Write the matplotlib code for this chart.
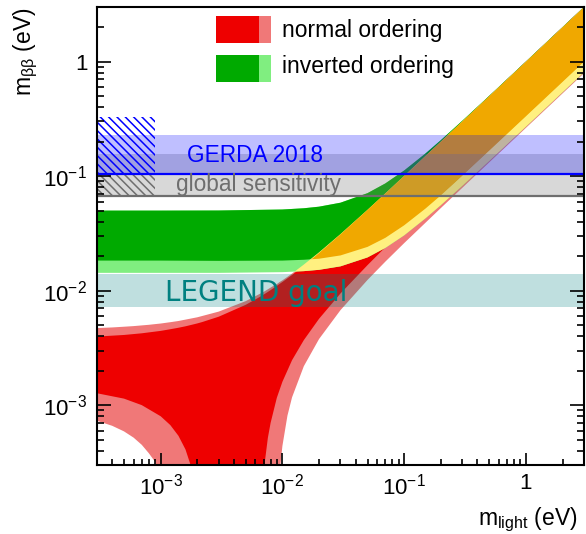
import numpy as np
import matplotlib
matplotlib.use('Agg')
import matplotlib.pyplot as plt
from matplotlib.patches import Rectangle
from matplotlib.ticker import LogLocator, NullFormatter

plt.rcParams['font.family'] = ['Liberation Sans', 'DejaVu Sans']
plt.rcParams['mathtext.default'] = 'regular'
plt.rcParams['hatch.linewidth'] = 1.1

# normal ordering, light band (outer envelope); 1e-5 = below the frame (m_bb -> 0)
no_l_x = [3e-4, 4e-4, 5e-4, 6e-4, 7e-4, 8e-4, 9e-4, 1e-3, 1.2e-3, 1.4e-3, 2e-3, 3e-3, 5e-3, 7e-3,
          8.8e-3, 9e-3, 9.5e-3, 1e-2, 1.1e-2, 1.2e-2, 1.5e-2, 2e-2, 3e-2, 5e-2, 7e-2, 0.1, 0.2, 0.3,
          0.5, 1, 2, 3]
no_l_hi = [0.00471, 0.00477, 0.00484, 0.0049, 0.00497, 0.00503, 0.0051, 0.00516, 0.0053, 0.00543,
           0.00585, 0.00656, 0.0081, 0.00974, 0.0113, 0.0114, 0.0119, 0.0123, 0.0132, 0.0141, 0.0169,
           0.0216, 0.0312, 0.0508, 0.0706, 0.1005, 0.2, 0.3, 0.5, 1.0, 2.0, 3.0]
no_l_lo = [7.3e-4, 6.6e-4, 5.9e-4, 5.2e-4, 4.5e-4, 3.8e-4, 3.2e-4, 2.5e-4, 1.1e-4, 1e-5, 1e-5, 1e-5,
           1e-5, 1e-5, 1e-5, 6.6e-5, 2.6e-4, 4.4e-4, 8.1e-4, 1.17e-3, 2.19e-3, 3.78e-3, 6.76e-3,
           0.0124, 0.0179, 0.026, 0.0526, 0.079, 0.132, 0.264, 0.528, 0.792]

# normal ordering, dark band
no_d_x = [3e-4, 5e-4, 7e-4, 1e-3, 1.2e-3, 1.4e-3, 1.6e-3, 1.8e-3, 2e-3, 2.2e-3, 3e-3, 5e-3, 6.5e-3,
          6.8e-3, 7.2e-3, 7.6e-3, 8e-3, 9e-3, 1e-2, 1.2e-2, 1.5e-2, 2e-2, 3e-2, 5e-2, 7e-2, 0.1, 0.2,
          0.3, 0.5, 1, 2, 3]
no_d_hi = [0.00397, 0.0041, 0.00424, 0.00445, 0.0046, 0.00474, 0.00488, 0.00503, 0.00517, 0.00532,
           0.00592, 0.00752, 0.00879, 0.00905, 0.0094, 0.00975, 0.0101, 0.011, 0.0119, 0.0137, 0.0165,
           0.0213, 0.031, 0.0507, 0.0705, 0.1004, 0.2, 0.3, 0.5, 1.0, 2.0, 3.0]
no_d_lo = [1.27e-3, 1.14e-3, 1.0e-3, 8.0e-4, 6.7e-4, 5.4e-4, 4.1e-4, 2.8e-4, 1.5e-4, 1e-5, 1e-5,
           1e-5, 1e-5, 1.36e-4, 3.3e-4, 5.2e-4, 7.0e-4, 1.16e-3, 1.6e-3, 2.47e-3, 3.7e-3, 5.68e-3,
           9.45e-3, 0.0167, 0.0239, 0.0335, 0.067, 0.1005, 0.167, 0.333, 0.665, 0.998]

# inverted ordering
io_x = [3e-4, 1e-3, 3e-3, 1e-2, 1.5e-2, 2e-2, 3e-2, 5e-2, 7e-2, 0.1, 0.15, 0.2, 0.3, 0.5, 0.7, 1, 2, 3]
io_hi = [0.05, 0.05, 0.0501, 0.0511, 0.0524, 0.0541, 0.0586, 0.071, 0.0863, 0.112, 0.158, 0.206,
         0.304, 0.5025, 0.702, 1.001, 2.0, 3.0]
io_lo_dark = [0.0183, 0.0183, 0.0182, 0.0183, 0.0186, 0.019, 0.0203, 0.0241, 0.0289, 0.0372, 0.0522,
              0.0679, 0.0999, 0.165, 0.23, 0.3285, 0.656, 0.984]
io_lo_light = [0.0143, 0.0143, 0.0143, 0.0145, 0.0148, 0.0152, 0.0163, 0.0195, 0.0236, 0.0304,
               0.0429, 0.0558, 0.0822, 0.1357, 0.1895, 0.2704, 0.5402, 0.8101]

# horizontal bands (eV)
legend_goal = [0.0072, 0.014]
global_sens = [0.067, 0.157]
gerda_2018 = [0.105, 0.23]
hatch_x = [3e-4, 9e-4]
gerda_hatch = [0.105, 0.33]
sens_hatch = [0.067, 0.105]

tick_vals = [1e-3, 1e-2, 1e-1, 1]
tick_text = [r'$10^{-3}$', r'$10^{-2}$', r'$10^{-1}$', '1']

fig = plt.figure(figsize=(5.86, 5.34), dpi=100)
ax = fig.add_axes([0.1655, 0.1292, 0.8311, 0.8577])
ax.set_xscale('log')
ax.set_yscale('log')


def band(x, lo, hi, color):
    x = np.asarray(x)
    xs = np.r_[x, x[::-1]]
    ys = np.r_[np.asarray(hi), np.asarray(lo)[::-1]]
    return ax.fill(xs, ys, color=color, lw=0)[0]


no_light = band(no_l_x, no_l_lo, no_l_hi, '#F07878')
no_dark = band(no_d_x, no_d_lo, no_d_hi, '#EE0000')
band(io_x, io_lo_light, io_hi, '#80EE80')
band(io_x, io_lo_dark, io_hi, '#00AA00')
# overlaps of the two orderings
yel = band(io_x, io_lo_light, io_hi, '#FFF080')
yel.set_clip_path(no_light)
ora = band(io_x, io_lo_dark, io_hi, '#F0A800')
ora.set_clip_path(no_dark)

ax.axhspan(*legend_goal, color='#008080', alpha=0.25, lw=0)
ax.axhspan(*global_sens, color='#808080', alpha=0.3, lw=0)
ax.axhspan(*gerda_2018, color='#0000FF', alpha=0.25, lw=0)
ax.axhline(global_sens[0], color='#6E6E6E', lw=1.6)
ax.axhline(gerda_2018[0], color='#0000FF', lw=1.6)
ax.fill_between(hatch_x, gerda_hatch[0], gerda_hatch[1], facecolor='none',
                edgecolor='#0000FF', hatch='\\\\\\\\', lw=0)
ax.fill_between(hatch_x, sens_hatch[0], sens_hatch[1], facecolor='none',
                edgecolor='#6E6E6E', hatch='\\\\\\\\', lw=0)

ax.text(0.1848, 0.6622, 'GERDA 2018', transform=ax.transAxes, color='#0000FF',
        fontsize=16.3, va='baseline')
ax.text(0.1622, 0.5993, 'global sensitivity', transform=ax.transAxes, color='#6E6E6E',
        fontsize=16.3, va='baseline')
ax.text(0.1396, 0.3587, 'LEGEND goal', transform=ax.transAxes, color='#008080',
        fontsize=20, va='baseline', family='DejaVu Sans')

# legend
for y0, dark, light, lab, base in [(0.9214, '#EE0000', '#F07878', 'normal ordering', 0.9352),
                                    (0.8362, '#00AA00', '#80EE80', 'inverted ordering', 0.8552)]:
    ax.add_patch(Rectangle((0.2444, y0), 0.0882, 0.059, transform=ax.transAxes,
                           color=dark, lw=0, zorder=5))
    ax.add_patch(Rectangle((0.3326, y0), 0.0247, 0.059, transform=ax.transAxes,
                           color=light, lw=0, zorder=5))
    ax.text(0.3799, base, lab, transform=ax.transAxes, fontsize=16.5, va='baseline', zorder=5)

ax.set_xlim(3e-4, 3)
ax.set_ylim(3e-4, 3)
ax.set_xticks(tick_vals, tick_text)
ax.set_yticks(tick_vals, tick_text)
for a in (ax.xaxis, ax.yaxis):
    a.set_minor_locator(LogLocator(subs=np.arange(2, 10)))
    a.set_minor_formatter(NullFormatter())
ax.tick_params(which='both', direction='in', top=False, right=True, width=1.2, labelsize=16)
ax.tick_params(axis='x', which='major', length=8.6, pad=6)
ax.tick_params(axis='x', which='minor', length=4.3)
ax.tick_params(axis='y', which='major', length=10, pad=7)
ax.tick_params(axis='y', which='minor', length=5)
for s in ax.spines.values():
    s.set_linewidth(1.5)

fig.text(26 / 586, 1 - 8 / 534, r'm$_{\beta\beta}$ (eV)', rotation=90, ha='center', va='top',
         fontsize=16.5)
fig.text(577 / 586, 9 / 534, r'm$_{light}$ (eV)', ha='right', va='baseline', fontsize=16.5)

fig.savefig('out.png', dpi=100)
